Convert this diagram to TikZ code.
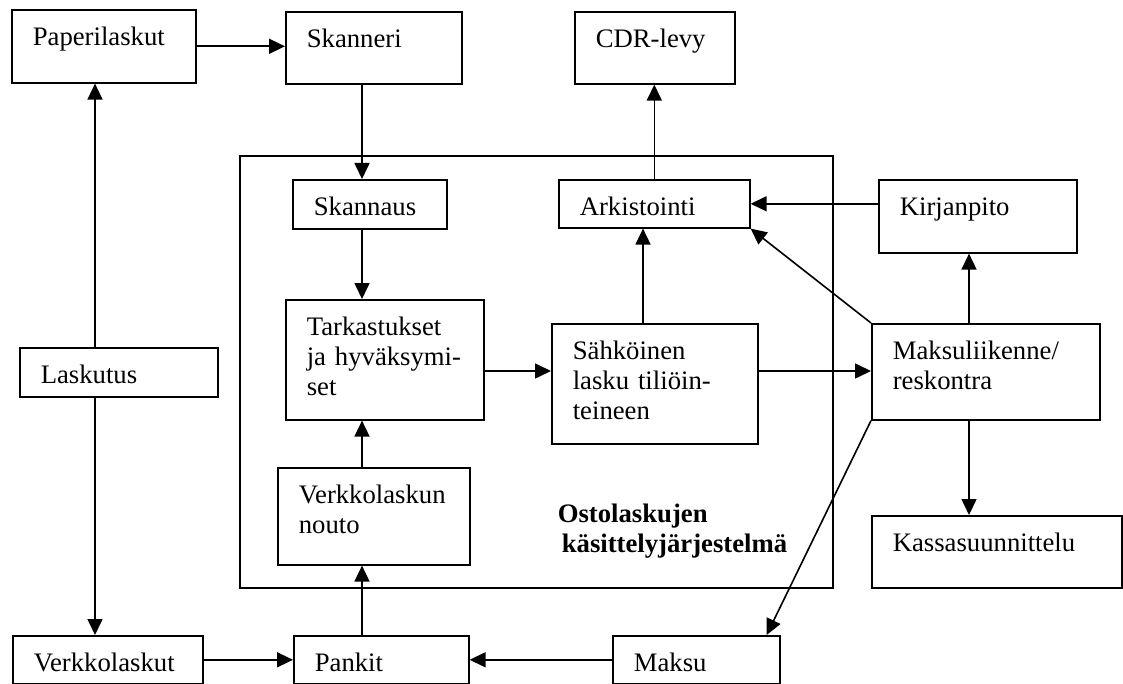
\documentclass[tikz,border=0pt]{standalone}
\usepackage{fontspec}
\setmainfont{Liberation Serif}
\usetikzlibrary{arrows.meta}
\tikzset{>={Triangle[length=8pt,width=7.5pt]}}
\hyphenpenalty=10000

\begin{document}
\begin{tikzpicture}[x=0.5pt,y=-0.5pt,line width=0.8pt,
		boks/.style={draw,anchor=north west,align=left,inner xsep=10.5pt,inner ysep=0pt,
			text height=18pt,font=\fontsize{13.35}{15}\selectfont},
		nimi/.style={anchor=north west,align=left,inner sep=0pt,text height=17.5pt,
			font=\fontsize{13.35}{15}\selectfont\bfseries}]
			% \draw[help lines] (0,0) grid[step=50] (1123,684);
			\useasboundingbox (0,0) rectangle (1123,684);
			% ostolaskujen kasittelyjarjestelma
			\node[draw,anchor=north west,inner sep=0pt,minimum width=296.5pt,minimum height=216pt] (sys) at (239,155) {};
			\node[nimi,text width=120pt] (otsikko) at (557,487) {Ostolaskujen\\\hspace*{2pt}käsittelyjärjestelmä};
			% laatikot
			\node[boks,text width=71pt,text depth=18.5pt] (pap) at (11,9) {Paperilaskut};
			\node[boks,text width=67pt,text depth=18pt] (skr) at (285,11) {Skanneri};
			\node[boks,text width=59pt,text depth=18pt] (cdr) at (574,11) {CDR-levy};
			\node[boks,text width=56pt,text depth=6.5pt] (ska) at (292,179) {Skannaus};
			\node[boks,text width=74.5pt,text depth=6pt] (ark) at (558,179) {Arkistointi};
			\node[boks,text width=78pt,text depth=18.5pt] (kir) at (878,179) {Kirjanpito};
			\node[boks,text width=78pt,text depth=42pt] (tar) at (285,299) {Tarkastukset\\ja hyväksymi-\\set};
			\node[boks,text width=82pt,text depth=42pt] (sah) at (551,323) {Sähköinen\\lasku tiliöin-\\teineen};
			\node[boks,text width=93pt,text depth=30pt] (mak) at (871,323) {Maksuliikenne/\\reskontra};
			\node[boks,text width=78pt,text depth=6.5pt] (las) at (19,347) {Laskutus};
			\node[boks,text width=75pt,text depth=30.5pt] (nou) at (277,467) {Verkkolaskun\\nouto};
			\node[boks,text width=104pt,text depth=18pt] (kas) at (871,515) {Kassasuunnittelu};
			\node[boks,text width=74pt,text depth=6pt] (ver) at (12,635) {Verkkolaskut};
			\node[boks,text width=66.5pt,text depth=6pt] (pan) at (293,635) {Pankit};
			\node[boks,text width=62.5pt,text depth=6pt] (mks) at (612,635) {Maksu};
			% pystysuorat linjat
			\coordinate (lx) at (95,0);
			\coordinate (kx) at (362,0);
			\coordinate (ax) at (643,0);
			\coordinate (mx) at (969,0);
			\coordinate (ty) at (0,371);
			% nuolet
			\draw[->] (pap.east) -- (pap.east -| skr.west);
			\draw[->] (skr.south -| kx) -- (ska.north -| kx);
			\draw[->] (ska.south -| kx) -- (tar.north -| kx);
			\draw[->] (nou.north -| kx) -- (tar.south -| kx);
			\draw[->] (pan.north -| kx) -- (nou.south -| kx);
			\draw[->] (tar.east |- ty) -- (sah.west |- ty);
			\draw[->] (sah.east |- ty) -- (mak.west |- ty);
			\draw[->] (sah.north -| ax) -- (ark.south -| ax);
			\draw[->] (ark.north) -- (ark.north |- cdr.south);
			\draw[->] (kir.west |- ark.east) -- (ark.east);
			\draw[->] (mak.north west) -- (ark.south east);
			\draw[->] (mak.north -| mx) -- (kir.south -| mx);
			\draw[->] (mak.south -| mx) -- (kas.north -| mx);
			\draw[->] (mak.south west) -- ([xshift=-7pt]mks.north east);
			\draw[->] (las.north -| lx) -- (pap.south -| lx);
			\draw[->] (las.south -| lx) -- (ver.north -| lx);
			\draw[->] (ver) -- (pan);
			\draw[->] (mks) -- (pan);
		\end{tikzpicture}
\end{document}
